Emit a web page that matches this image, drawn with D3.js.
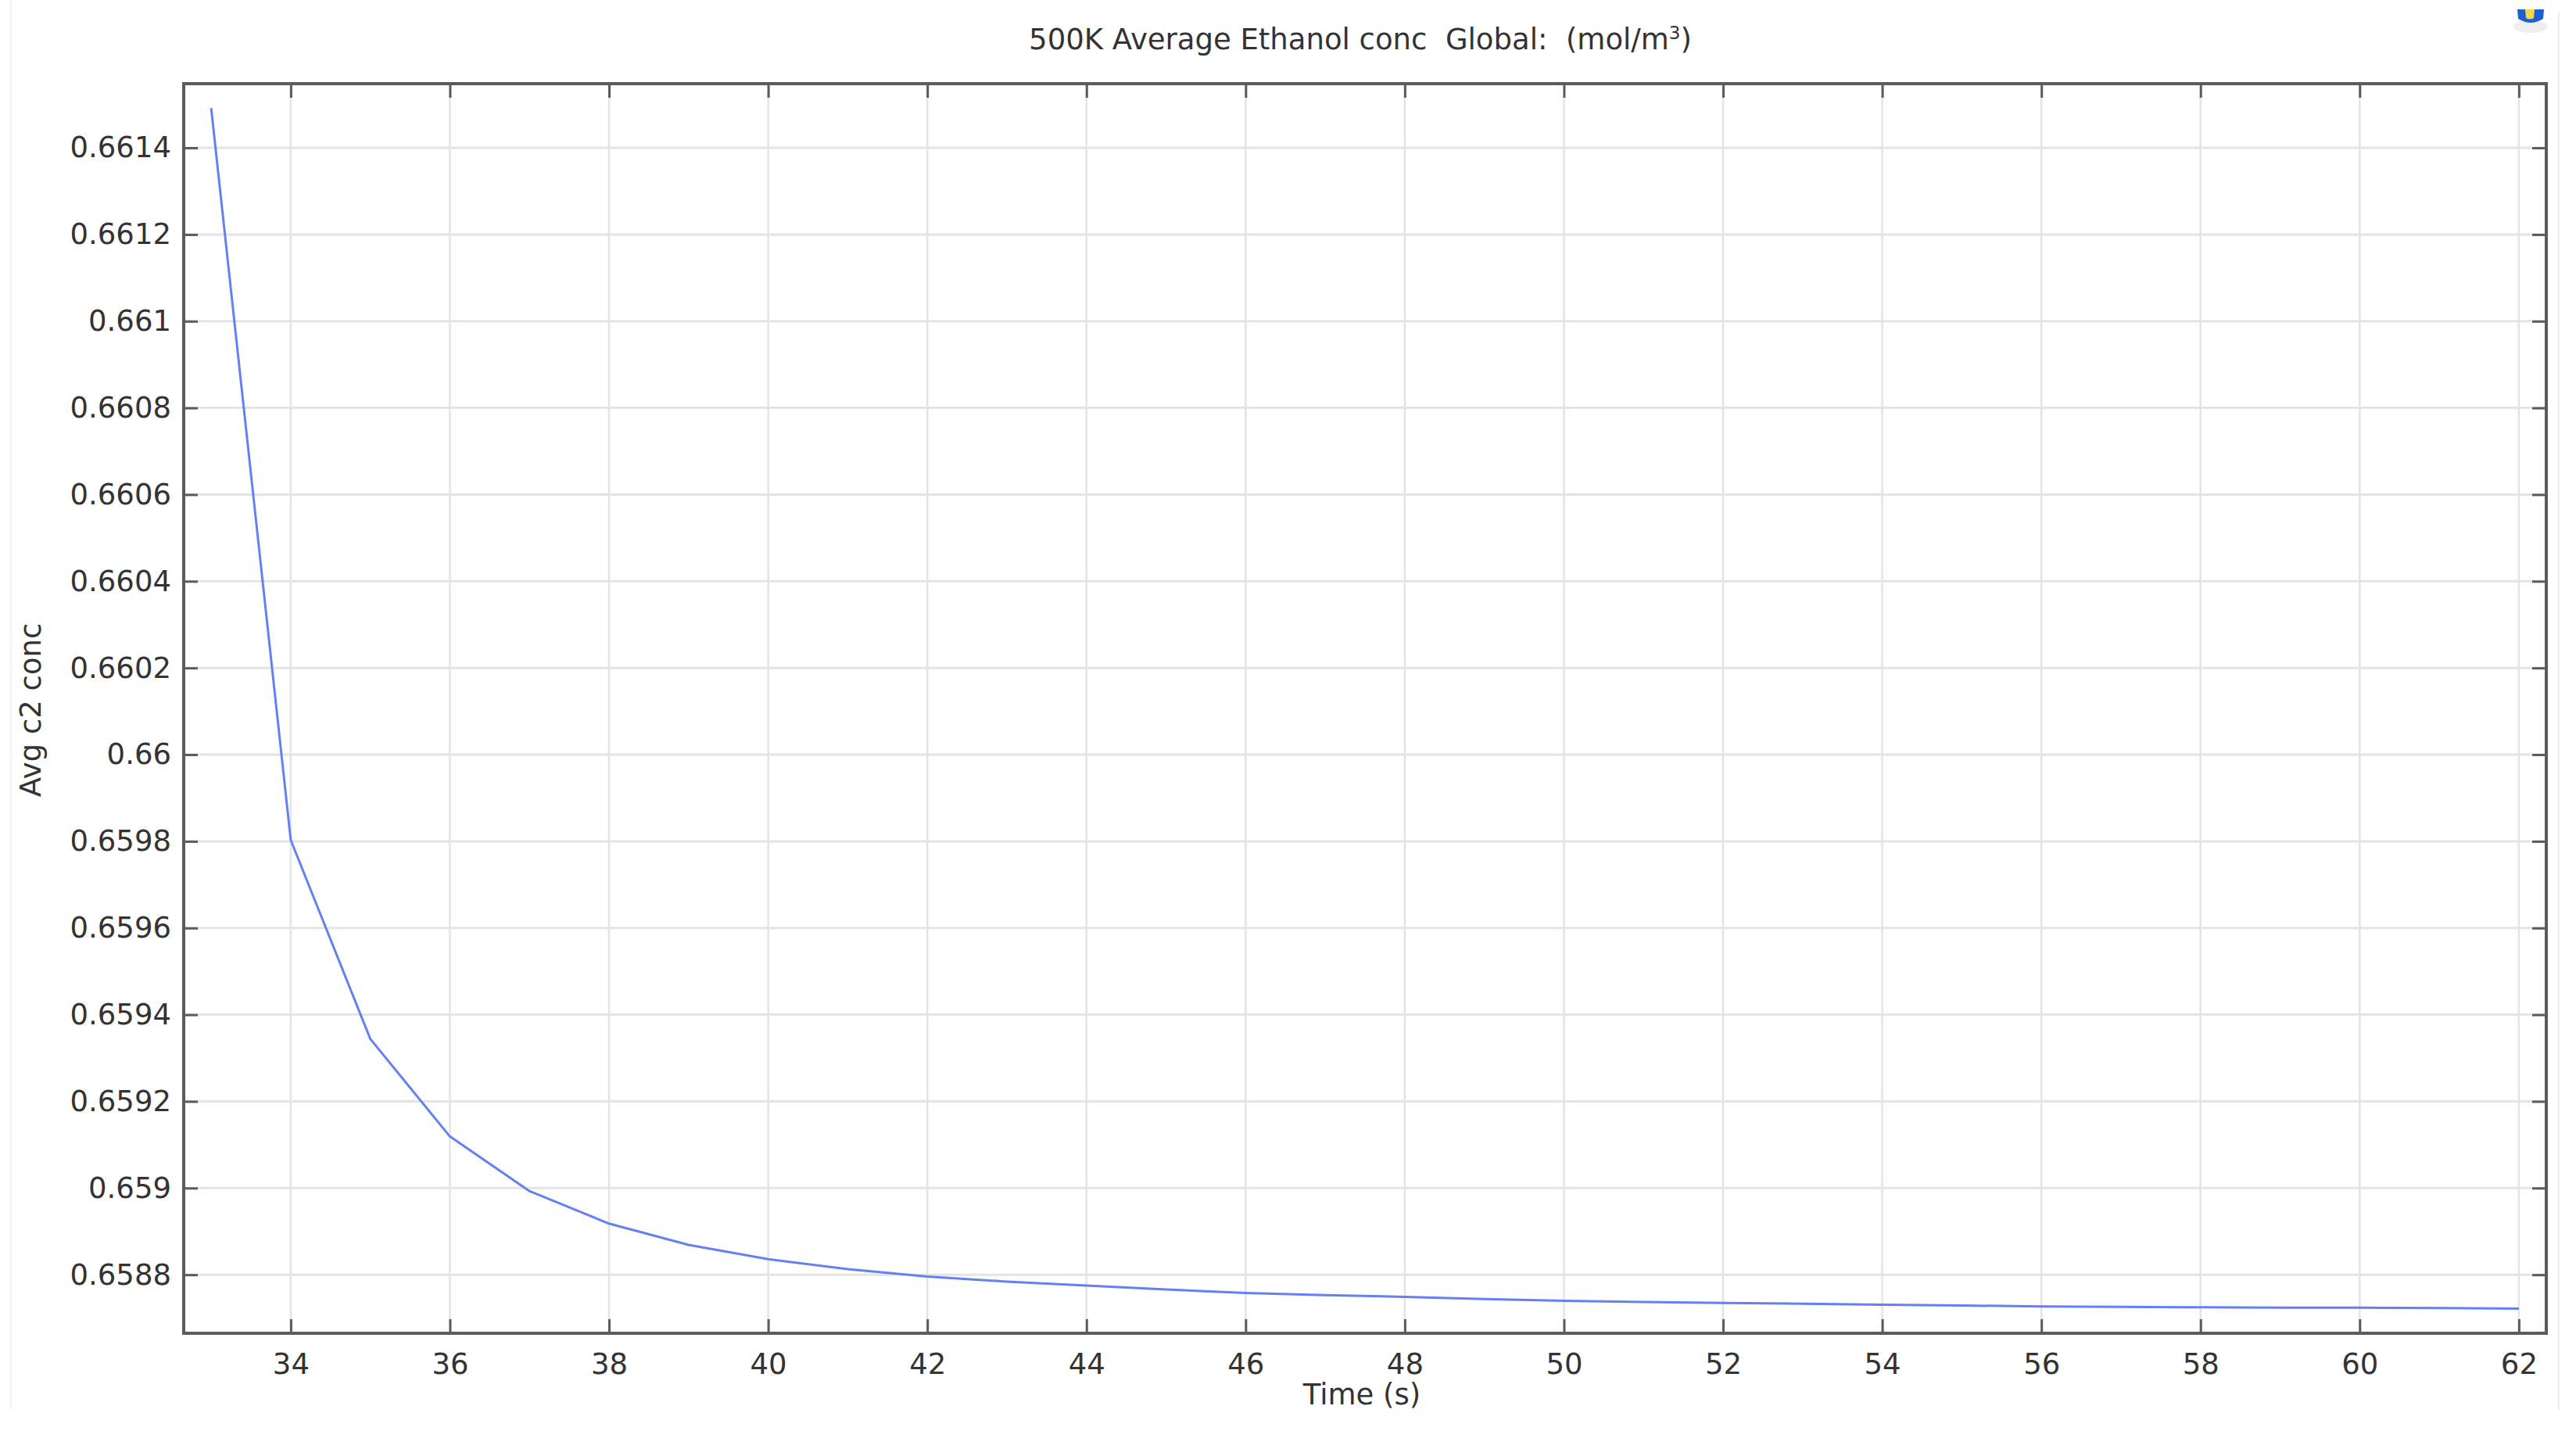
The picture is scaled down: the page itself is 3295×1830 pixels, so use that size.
<!DOCTYPE html>
<html>
<head>
<meta charset="utf-8">
<script src="https://cdn.jsdelivr.net/npm/d3@7"></script>
<style>
  body { margin: 0; background: #fff; }
  svg { display: block; font-family: "DejaVu Sans", sans-serif; }
  text { white-space: pre; }
</style>
</head>
<body>
<svg width="3295" height="1830"></svg>
<script>
// values (1 s output steps)
var times = [33, 34, 35, 36, 37, 38, 39, 40, 41, 42, 43, 44, 45, 46, 47,
    48, 49, 50, 51, 52, 53, 54, 55, 56, 57, 58, 59, 60, 61, 62];
var avgConc = [0.661492, 0.659803, 0.659344, 0.659119, 0.658993, 0.658918,
    0.658869, 0.658836, 0.658813, 0.658796, 0.658784, 0.658775, 0.658766,
    0.658758, 0.658753, 0.658749, 0.658744, 0.658740, 0.658737, 0.658735,
    0.658733, 0.658731, 0.658729, 0.658727, 0.658726, 0.658725, 0.658724,
    0.658724, 0.658723, 0.658722];

var xTicks = [34, 36, 38, 40, 42, 44, 46, 48, 50, 52, 54, 56, 58, 60, 62];
var yTicks = [0.6588, 0.659, 0.6592, 0.6594, 0.6596, 0.6598, 0.66,
    0.6602, 0.6604, 0.6606, 0.6608, 0.661, 0.6612, 0.6614];

var xDomain = [32.655, 62.345];
var yDomain = [0.658665, 0.661548];

var svg = d3.select("svg"),
    width = +svg.attr("width"),
    height = +svg.attr("height");

var margin = { top: 107, right: 38, bottom: 125, left: 235 };
var plotW = width - margin.left - margin.right,
    plotH = height - margin.top - margin.bottom;

var x = d3.scaleLinear().domain(xDomain).range([0, plotW]);
var y = d3.scaleLinear().domain(yDomain).range([plotH, 0]);

var frameColor = "#5b5b5b",
    gridColor = "#e4e4e4",
    textColor = "#333",
    fontSize = "37px";

// faint screenshot edges
svg.append("line")
    .attr("x1", 3273).attr("x2", 3273).attr("y1", 15).attr("y2", 1803)
    .attr("stroke", "#ececec").attr("stroke-width", 2);
svg.append("line")
    .attr("x1", 14).attr("x2", 14).attr("y1", 0).attr("y2", 1803)
    .attr("stroke", "#f4f4f4").attr("stroke-width", 2);

// little toolbar icon in the corner
var icon = svg.append("g").attr("transform", "translate(3220,10)");
icon.append("ellipse").attr("cx", 17).attr("cy", 24).attr("rx", 22).attr("ry", 8)
    .attr("fill", "#eeeeee");
icon.append("path").attr("d", "M0,2 L34,2 L33,14 Q17,24 1,14 Z").attr("fill", "#1f5fd0");
icon.append("path").attr("d", "M10,2 L22,2 L21,13 Q16,16 11,13 Z").attr("fill", "#f2d94a");

var g = svg.append("g")
    .attr("transform", "translate(" + margin.left + "," + margin.top + ")");

// grid
g.append("g")
    .selectAll("line")
    .data(xTicks)
    .enter().append("line")
    .attr("x1", function (d) { return x(d); })
    .attr("x2", function (d) { return x(d); })
    .attr("y1", 0).attr("y2", plotH)
    .attr("stroke", gridColor).attr("stroke-width", 2.5);

g.append("g")
    .selectAll("line")
    .data(yTicks)
    .enter().append("line")
    .attr("y1", function (d) { return y(d); })
    .attr("y2", function (d) { return y(d); })
    .attr("x1", 0).attr("x2", plotW)
    .attr("stroke", gridColor).attr("stroke-width", 3);

// the curve
var line = d3.line()
    .x(function (d, i) { return x(times[i]); })
    .y(function (d) { return y(d); });

g.append("path")
    .datum(avgConc)
    .attr("fill", "none")
    .attr("stroke", "#6480f2")
    .attr("stroke-width", 3)
    .attr("stroke-linejoin", "round")
    .attr("d", line);

// inward ticks on all four sides, labels on left/bottom
var tickLen = 18;
function fmt(v) { return String(+v.toFixed(4)); }

var xAxisB = d3.axisBottom(x).tickValues(xTicks).tickSize(-tickLen).tickPadding(26);
var xAxisT = d3.axisTop(x).tickValues(xTicks).tickSize(-tickLen).tickFormat("");
var yAxisL = d3.axisLeft(y).tickValues(yTicks).tickSize(-tickLen).tickPadding(16).tickFormat(fmt);
var yAxisR = d3.axisRight(y).tickValues(yTicks).tickSize(-tickLen).tickFormat("");

function styleAxis(sel) {
    sel.select(".domain").remove();
    sel.selectAll(".tick line").attr("stroke", frameColor).attr("stroke-width", 3);
    sel.selectAll(".tick text")
        .attr("fill", textColor)
        .style("font-size", fontSize)
        .style("font-family", "'DejaVu Sans', sans-serif");
}

g.append("g").attr("transform", "translate(0," + plotH + ")").call(xAxisB).call(styleAxis);
g.append("g").call(xAxisT).call(styleAxis);
g.append("g").call(yAxisL).call(styleAxis);
g.append("g").attr("transform", "translate(" + plotW + ",0)").call(yAxisR).call(styleAxis);

// frame
g.append("rect")
    .attr("width", plotW).attr("height", plotH)
    .attr("fill", "none")
    .attr("stroke", frameColor)
    .attr("stroke-width", 4);

// title and axis labels
var title = svg.append("text")
    .attr("x", margin.left + plotW / 2 - 6)
    .attr("y", 63)
    .attr("text-anchor", "middle")
    .attr("fill", textColor)
    .style("font-size", fontSize);
title.append("tspan").text("500K Average Ethanol conc  Global:  (mol/m");
title.append("tspan").attr("baseline-shift", "super").style("font-size", "23px").text("3");
title.append("tspan").text(")");

svg.append("text")
    .attr("x", margin.left + plotW / 2 - 4)
    .attr("y", 1796)
    .attr("text-anchor", "middle")
    .attr("fill", textColor)
    .style("font-size", fontSize)
    .text("Time (s)");

svg.append("text")
    .attr("transform", "translate(52,908) rotate(-90)")
    .attr("text-anchor", "middle")
    .attr("fill", textColor)
    .style("font-size", fontSize)
    .text("Avg c2 conc");
</script>
</body>
</html>
